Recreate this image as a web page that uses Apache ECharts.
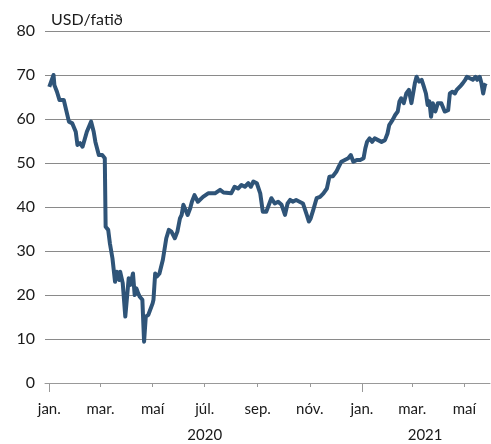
<!DOCTYPE html>
<html>
<head>
<meta charset="utf-8">
<script src="https://cdn.jsdelivr.net/npm/echarts@6/dist/echarts.min.js"></script>
<style>
  html, body { margin: 0; padding: 0; background: #fff; }
  #chart { width: 491px; height: 444px; }
</style>
</head>
<body>
<div id="chart"></div>
<script>
// verð á olíu, lesið af myndinni
const dates = [
  '2020-01-01','2020-01-06','2020-01-07','2020-01-10','2020-01-13','2020-01-18','2020-01-20','2020-01-24','2020-01-28',
  '2020-02-01','2020-02-03','2020-02-06','2020-02-09','2020-02-14','2020-02-19','2020-02-22','2020-02-24','2020-02-28',
  '2020-03-03','2020-03-06','2020-03-07','2020-03-10','2020-03-12','2020-03-14','2020-03-15','2020-03-18','2020-03-20',
  '2020-03-23','2020-03-24','2020-03-27','2020-03-30','2020-04-01','2020-04-03','2020-04-05','2020-04-08','2020-04-10',
  '2020-04-12','2020-04-14','2020-04-16','2020-04-19','2020-04-21','2020-04-23','2020-04-26','2020-04-28','2020-05-01',
  '2020-05-02','2020-05-04','2020-05-06','2020-05-09','2020-05-13','2020-05-17','2020-05-20','2020-05-23','2020-05-27',
  '2020-05-30','2020-06-02','2020-06-04','2020-06-06','2020-06-08','2020-06-11','2020-06-14','2020-06-16','2020-06-19',
  '2020-06-23','2020-06-29','2020-07-05','2020-07-13','2020-07-19','2020-07-23','2020-08-01','2020-08-05','2020-08-09',
  '2020-08-13','2020-08-17','2020-08-21','2020-08-24','2020-08-27','2020-08-31','2020-09-04','2020-09-07','2020-09-11',
  '2020-09-13','2020-09-17','2020-09-21','2020-09-25','2020-09-29','2020-10-03','2020-10-06','2020-10-09','2020-10-12',
  '2020-10-16','2020-10-20','2020-10-24','2020-10-28','2020-10-31','2020-11-02','2020-11-05','2020-11-09','2020-11-13',
  '2020-11-17','2020-11-21','2020-11-24','2020-11-28','2020-12-02','2020-12-04','2020-12-08','2020-12-12','2020-12-16',
  '2020-12-19','2020-12-22','2020-12-26','2020-12-30','2021-01-03','2021-01-05','2021-01-07','2021-01-10','2021-01-13',
  '2021-01-16','2021-01-20','2021-01-24','2021-01-28','2021-01-31','2021-02-02','2021-02-06','2021-02-09','2021-02-12',
  '2021-02-14','2021-02-16','2021-02-19','2021-02-22','2021-02-25','2021-02-28','2021-03-04','2021-03-06','2021-03-09',
  '2021-03-12','2021-03-14','2021-03-17','2021-03-19','2021-03-21','2021-03-23','2021-03-25','2021-03-28','2021-03-31',
  '2021-04-04','2021-04-08','2021-04-12','2021-04-14','2021-04-17','2021-04-20','2021-04-22','2021-04-26','2021-04-29',
  '2021-05-02','2021-05-04','2021-05-08','2021-05-11','2021-05-14','2021-05-16','2021-05-19','2021-05-21','2021-05-23',
  '2021-05-25','2021-05-26'
];
const prices = [
  67.3, 70.0, 67.7, 66.2, 64.3, 64.3, 63.9, 59.4, 59.0,
  57.1, 54.1, 54.5, 53.7, 57.1, 59.4, 57.1, 54.8, 51.8,
  51.8, 51.1, 35.5, 34.8, 31.7, 31.7, 28.3, 23.0, 25.3,
  23.4, 25.3, 22.7, 15.1, 15.1, 23.8, 22.3, 24.9, 20.0,
  21.5, 20.4, 19.6, 18.9, 9.4, 15.1, 15.5, 15.5, 18.1,
  18.9, 24.9, 24.2, 24.9, 28.0, 32.9, 34.8, 34.4, 32.9,
  34.4, 37.4, 38.2, 40.5, 40.5, 38.2, 39.7, 41.2, 42.7,
  41.2, 42.3, 43.1, 43.1, 43.9, 43.3, 43.1, 44.6, 44.2,
  45.0, 44.6, 45.4, 44.6, 45.8, 45.4, 43.1, 38.9, 38.9,
  38.5, 42.0, 40.8, 41.2, 40.5, 38.2, 40.8, 41.6, 41.2,
  41.6, 41.2, 40.8, 38.5, 36.7, 37.4, 39.3, 42.0, 42.3,
  43.1, 44.2, 46.9, 47.0, 48.0, 48.8, 50.3, 50.7, 51.1,
  51.8, 50.3, 50.7, 50.7, 51.1, 53.3, 54.8, 55.6, 54.8,
  55.6, 55.2, 54.8, 55.2, 56.7, 58.6, 59.8, 60.9, 61.7,
  64.0, 64.7, 63.6, 65.8, 66.6, 63.6, 68.1, 69.6, 68.5,
  68.9, 67.7, 65.8, 63.2, 64.0, 60.5, 63.6, 61.7, 63.6,
  63.6, 61.7, 62.0, 65.8, 66.2, 65.8, 66.6, 67.4, 68.1,
  68.9, 69.6, 69.2, 68.9, 69.6, 68.9, 69.6, 68.1, 65.8,
  67.7, 68.1
];
const monthNames = { '01': 'jan.', '03': 'mar.', '05': 'maí', '07': 'júl.', '09': 'sep.', '11': 'nóv.' };
const yearLabels = { '2020-07-01': '2020', '2021-03-16': '2021' };

// allir dagar á ásnum
const days = [];
for (let t = Date.UTC(2019, 11, 27); t <= Date.UTC(2021, 4, 31); t += 86400000) {
  days.push(new Date(t).toISOString().substring(0, 10));
}
const isMonthStart = d => d.substring(8) === '01' && monthNames[d.substring(5, 7)] !== undefined;

const font = 'Lato, "Open Sans", sans-serif';
const chart = echarts.init(document.getElementById('chart'));
chart.setOption({
  animation: false,
  title: {
    text: 'USD/fatið',
    left: 46,
    top: 7,
    textStyle: { fontFamily: font, fontSize: 16, fontWeight: 'normal', color: '#1a1a1a' }
  },
  grid: { left: 45, right: 1, top: 31, bottom: 61 },
  xAxis: [
    {
      type: 'category',
      data: days,
      boundaryGap: false,
      position: 'bottom',
      axisLine: { lineStyle: { color: '#999', width: 1 } },
      axisTick: {
        length: 9,
        lineStyle: { color: '#999' },
        interval: (i, d) => d.substring(5) === '01-01'
      },
      axisLabel: {
        interval: (i, d) => isMonthStart(d),
        formatter: d => monthNames[d.substring(5, 7)],
        margin: 19,
        fontFamily: font,
        fontSize: 15,
        color: '#1a1a1a'
      },
      splitLine: { show: false }
    },
    {
      type: 'category',
      data: days,
      boundaryGap: false,
      position: 'bottom',
      axisLine: { show: false },
      axisTick: {
        length: 4,
        lineStyle: { color: '#999' },
        interval: (i, d) => isMonthStart(d) && d.substring(5) !== '01-01'
      },
      axisLabel: {
        interval: (i, d) => yearLabels[d] !== undefined,
        formatter: d => yearLabels[d] || '',
        margin: 45,
        fontFamily: font,
        fontSize: 15,
        color: '#1a1a1a'
      },
      splitLine: { show: false }
    }
  ],
  yAxis: {
    type: 'value',
    min: 0,
    max: 80,
    interval: 10,
    axisLine: { show: false },
    axisTick: { show: false },
    axisLabel: { margin: 10, fontFamily: font, fontSize: 16, color: '#1a1a1a' },
    splitLine: { lineStyle: { color: '#8a8a8a', width: 1 } }
  },
  series: [{
    type: 'line',
    data: dates.map((d, i) => [d, prices[i]]),
    showSymbol: false,
    symbol: 'none',
    lineStyle: { color: '#2f5478', width: 4, join: 'round' }
  }]
});
</script>
</body>
</html>
